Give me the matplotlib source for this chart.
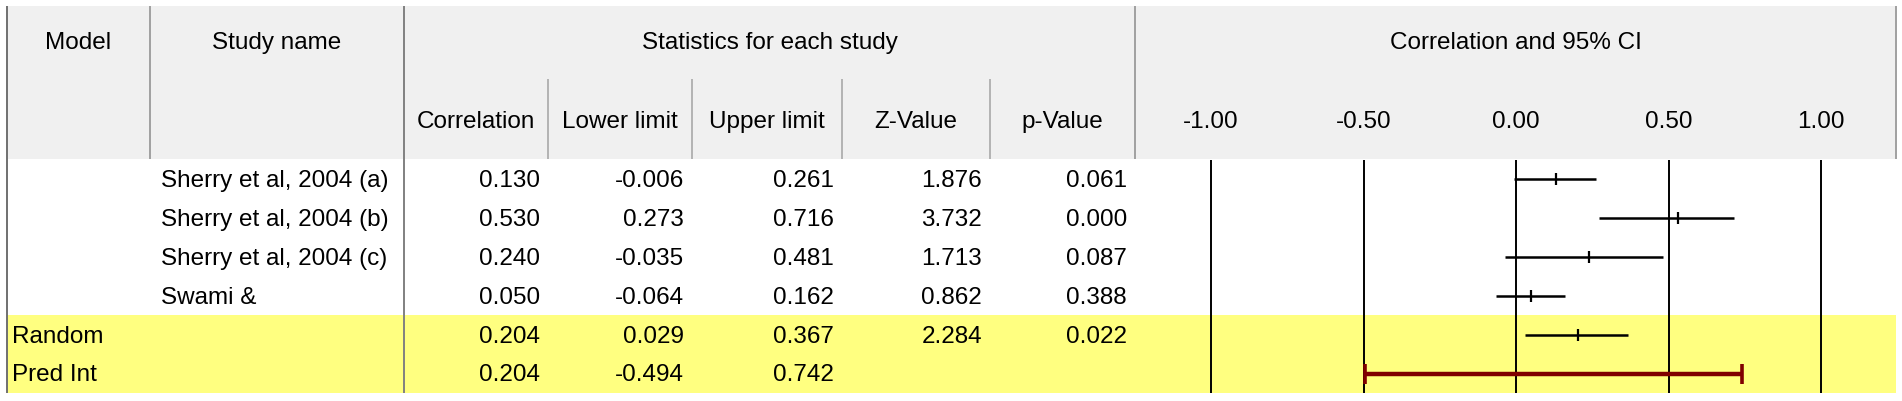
import numpy as np
import matplotlib.pyplot as plt
import matplotlib.transforms as mtransforms
from matplotlib.patches import Rectangle

plt.rcParams["font.family"] = ["Liberation Sans", "DejaVu Sans"]

models = ["", "", "", "", "Random", "Pred Int"]
studies = ["Sherry et al, 2004 (a)", "Sherry et al, 2004 (b)", "Sherry et al, 2004 (c)", "Swami &", "", ""]
corr = [0.130, 0.530, 0.240, 0.050, 0.204, 0.204]
lower = [-0.006, 0.273, -0.035, -0.064, 0.029, -0.494]
upper = [0.261, 0.716, 0.481, 0.162, 0.367, 0.742]
zval = [1.876, 3.732, 1.713, 0.862, 2.284, None]
pval = [0.061, 0.000, 0.087, 0.388, 0.022, None]
ticks = [-1.0, -0.5, 0.0, 0.5, 1.0]

W, H = 1902, 401
fig = plt.figure(figsize=(W/100, H/100), dpi=100)
ax = fig.add_axes([0, 0, 1, 1])
ax.set_xlim(0, W)
ax.set_ylim(H, 0)
ax.axis("off")

FS = 17.5
hdr_gray = "#F0F0F0"
yellow = "#FFFF80"
row_top = 160
row_h = 38.8
n = len(corr)
row_y = [row_top + row_h*(i + 0.5) for i in range(n)]

# backgrounds
ax.add_patch(Rectangle((7, 6), 1889, 153, color=hdr_gray, lw=0))
ax.add_patch(Rectangle((7, row_top + row_h*4), 1889, row_h*2, color=yellow, lw=0))

# grid lines
def vline(x, y0, y1, c, lw=1.0):
    ax.plot([x, x], [y0, y1], color=c, lw=lw, solid_capstyle="butt")

vline(6.5, 6, 393, "#707070", 1.4)
vline(150, 6, 159, "#A0A0A0", 1.4)
vline(404, 6, 393, "#808080", 1.4)
vline(1135, 6, 159, "#A0A0A0", 1.4)
vline(1896, 6, 159, "#A0A0A0", 1.4)
col_edges = [404, 548, 692, 842, 990, 1135]
for x in col_edges[1:-1]:
    vline(x, 79, 159, "#A8A8A8", 1.2)

# header text
ax.text(78, 43, "Model", ha="center", va="center", fontsize=FS)
ax.text(277, 43, "Study name", ha="center", va="center", fontsize=FS)
ax.text(770, 43, "Statistics for each study", ha="center", va="center", fontsize=FS)
ax.text(1516, 43, "Correlation and 95% CI", ha="center", va="center", fontsize=FS)
sub_hdr = ["Correlation", "Lower limit", "Upper limit", "Z-Value", "p-Value"]
for k, s in enumerate(sub_hdr):
    ax.text((col_edges[k] + col_edges[k+1])/2, 122, s, ha="center", va="center", fontsize=FS)

# body text
cols = [corr, lower, upper, zval, pval]
for i in range(n):
    ty = row_y[i] + 2
    ax.text(12, ty, models[i], ha="left", va="center", fontsize=FS)
    ax.text(161, ty, studies[i], ha="left", va="center", fontsize=FS)
    for k, c in enumerate(cols):
        if c[i] is None:
            continue
        ax.text(col_edges[k+1] - 8, ty, "%.3f" % c[i], ha="right", va="center", fontsize=FS)

# forest plot panel
px0, px1 = 1137, 1895
x_m1, x_p1 = 1211, 1821
ppu = (x_p1 - x_m1)/2
fa = fig.add_axes([px0/W, (H - 393)/H, (px1 - px0)/W, (393 - row_top)/H])
fa.set_xlim(-1 - (x_m1 - px0)/ppu, 1 + (px1 - x_p1)/ppu)
fa.set_ylim(n - 0.5, -0.5)
fa.axis("off")
fa.patch.set_alpha(0)

for t in ticks:
    fa.axvline(t, color="black", lw=1.4)
trans = mtransforms.blended_transform_factory(fa.transData, ax.transData)
for t in ticks:
    fa.text(t, 122, "%.2f" % t, transform=trans, ha="center", va="center", fontsize=FS)

rows = np.arange(n)
fa.hlines(rows[:5], lower[:5], upper[:5], color="black", lw=1.8)
fa.plot(corr[:5], rows[:5], ls="none", marker="|", ms=8, mew=1.6, color="black")
fa.hlines(rows[5], lower[5], upper[5], color="#800000", lw=3.2)
fa.plot([lower[5], upper[5]], [rows[5], rows[5]], ls="none", marker="|", ms=15, mew=2.6, color="#800000")

fig.savefig("out.png", dpi=100, facecolor="white")
